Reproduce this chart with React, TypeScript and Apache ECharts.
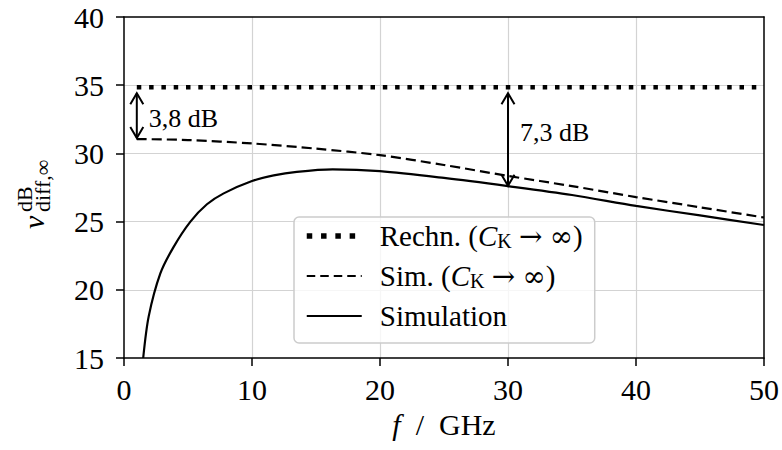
import React, { useEffect, useRef } from "react";
import * as echarts from "echarts";

// Frequency axis (GHz) and differential gain curves (dB)
const rechnF = [1, 50];
const rechnV = [34.85, 34.85];

const simF = [1, 5, 10, 15, 20, 25, 30, 35, 40, 45, 50];
const simV = [31.05, 30.98, 30.73, 30.35, 29.87, 29.15, 28.35, 27.6, 26.8, 26.05, 25.3];

const simulationF = [1.5, 1.93, 2.84, 3.88, 5.19, 6.48, 7.79, 10, 11.7, 13.5, 16.3, 20, 25, 30, 35, 40, 45, 50];
const simulationV = [15.0, 18.05, 21.2, 23.15, 25.0, 26.27, 27.07, 27.97, 28.39, 28.65, 28.83, 28.7, 28.2, 27.6, 26.95, 26.15, 25.45, 24.75];

// Double-headed gap markers
const gapF = [1, 30];
const gapTop = [34.85, 34.85];
const gapBottom = [31.05, 27.55];
const gapLabels = ["3,8 dB", "7,3 dB"];
const gapLabelAt = [0.57, 0.42];

const xTicks = { min: 0, max: 50, interval: 10 };
const yTicks = { min: 15, max: 40, interval: 5 };

const seriesNames = ["Rechn.", "Sim.", "Simulation"];
const legendLabels: Record<string, string> = {
  "Rechn.": "{t|Rechn. (}{it|C}{sub|K}{t| }{ar|→}{t| }{inf|∞}{t|)}",
  "Sim.": "{t|Sim. (}{it|C}{sub|K}{t| }{ar|→}{t| }{inf|∞}{t|)}",
  Simulation: "{t|Simulation}",
};

const FONT = "'Liberation Serif', 'DejaVu Serif', serif";
const SYM_FONT = "'DejaVu Serif', 'DejaVu Sans', serif";

export default function App() {
  const ref = useRef<HTMLDivElement>(null);

  useEffect(() => {
    if (!ref.current) return;
    const chart = echarts.init(ref.current, undefined, { renderer: "svg" });

    const pairs = (xs: number[], ys: number[]) => xs.map((x, i) => [x, ys[i]]);

    const option: any = {
      animation: false,
      backgroundColor: "#ffffff",
      grid: { left: 124, top: 17, right: 17, bottom: 92, containLabel: false },
      xAxis: [
        {
          type: "value",
          min: xTicks.min,
          max: xTicks.max,
          interval: xTicks.interval,
          name: "{i|f}{n|\u2002/\u2002GHz}",
          nameLocation: "middle",
          nameGap: 51,
          nameTextStyle: {
            fontFamily: FONT,
            fontSize: 30,
            color: "#000",
            rich: {
              i: { fontStyle: "italic", fontFamily: FONT, fontSize: 30, color: "#000" },
              n: { fontFamily: FONT, fontSize: 30, color: "#000" },
            },
          },
          axisLine: { show: true, lineStyle: { color: "#000", width: 1.5 } },
          axisTick: { show: true, inside: false, length: 8, lineStyle: { color: "#000", width: 1.5 } },
          axisLabel: { fontFamily: FONT, fontSize: 30, color: "#000", margin: 16 },
          splitLine: { show: true, showMinLine: false, showMaxLine: false, lineStyle: { color: "#d3d3d3", width: 1.2 } },
        },
        {
          type: "value",
          position: "top",
          min: xTicks.min,
          max: xTicks.max,
          interval: xTicks.interval,
          axisLine: { show: true, onZero: false, lineStyle: { color: "#000", width: 1.5 } },
          axisTick: { show: false },
          axisLabel: { show: false },
          splitLine: { show: false },
        },
      ],
      yAxis: [
        {
          type: "value",
          min: yTicks.min,
          max: yTicks.max,
          interval: yTicks.interval,
          axisLine: { show: true, lineStyle: { color: "#000", width: 1.5 } },
          axisTick: { show: true, inside: false, length: 8, lineStyle: { color: "#000", width: 1.5 } },
          axisLabel: { fontFamily: FONT, fontSize: 30, color: "#000", margin: 20 },
          splitLine: { show: true, showMinLine: false, showMaxLine: false, lineStyle: { color: "#d3d3d3", width: 1.2 } },
        },
        {
          type: "value",
          position: "right",
          min: yTicks.min,
          max: yTicks.max,
          interval: yTicks.interval,
          axisLine: { show: true, onZero: false, lineStyle: { color: "#000", width: 1.5 } },
          axisTick: { show: false },
          axisLabel: { show: false },
          splitLine: { show: false },
        },
      ],
      legend: {
        orient: "vertical",
        left: 294,
        top: 217,
        itemWidth: 55,
        itemHeight: 14,
        itemGap: 10,
        padding: [4, 12, 12, 10],
        backgroundColor: "rgba(255,255,255,0.8)",
        borderColor: "#cccccc",
        borderWidth: 1.5,
        borderRadius: 5,
        selectedMode: false,
        itemStyle: { opacity: 0 },
        data: [
          { name: seriesNames[0], itemStyle: { opacity: 0 }, lineStyle: { width: 5.5, type: [5.5, 8.8], cap: "butt" } },
          { name: seriesNames[1], itemStyle: { opacity: 0 }, lineStyle: { width: 2.2, type: [8.5, 5], cap: "butt" } },
          { name: seriesNames[2], itemStyle: { opacity: 0 }, lineStyle: { width: 2.2, type: "solid" } },
        ],
        formatter: (name: string) => legendLabels[name] ?? name,
        textStyle: {
          fontFamily: FONT,
          fontSize: 29,
          color: "#000",
          lineHeight: 30,
          padding: [0, 0, 0, 13],
          rich: {
            t: { fontFamily: FONT, fontSize: 29, color: "#000", lineHeight: 30 },
            it: { fontStyle: "italic", fontFamily: FONT, fontSize: 29, color: "#000", lineHeight: 30 },
            sub: { fontFamily: FONT, fontSize: 20, color: "#000", lineHeight: 18, verticalAlign: "bottom" },
            ar: { fontFamily: SYM_FONT, fontSize: 28, color: "#000", lineHeight: 30 },
            inf: { fontFamily: SYM_FONT, fontSize: 28, color: "#000", lineHeight: 30 },
          },
        },
      },
      graphic: [
        {
          type: "group",
          x: 43,
          y: 229,
          rotation: Math.PI / 2,
          children: [
            {
              type: "text",
              x: 0,
              y: -10,
              style: { text: "v", fontFamily: FONT, fontStyle: "italic", fontSize: 30, fill: "#000", align: "left", verticalAlign: "middle" },
            },
            {
              type: "text",
              x: 17,
              y: -18.5,
              style: { text: "dB", fontFamily: FONT, fontSize: 22, fill: "#000", align: "left", verticalAlign: "middle" },
            },
            {
              type: "text",
              x: 17,
              y: -1,
              style: { text: "diff,∞", fontFamily: FONT, fontSize: 22, fill: "#000", align: "left", verticalAlign: "middle" },
            },
          ],
        },
      ],
      series: [
        {
          name: seriesNames[0],
          type: "line",
          data: pairs(rechnF, rechnV),
          showSymbol: false,
          symbol: "none",
          lineStyle: { color: "#000", width: 4.5, type: [4.5, 7.8], cap: "butt" },
          itemStyle: { color: "#000" },
          z: 3,
        },
        {
          name: seriesNames[1],
          type: "line",
          data: pairs(simF, simV),
          showSymbol: false,
          symbol: "none",
          smooth: 0.3,
          lineStyle: { color: "#000", width: 2.2, type: [10, 5], cap: "butt" },
          itemStyle: { color: "#000" },
          z: 3,
        },
        {
          name: seriesNames[2],
          type: "line",
          data: pairs(simulationF, simulationV),
          showSymbol: false,
          symbol: "none",
          smooth: 0.3,
          clip: true,
          lineStyle: { color: "#000", width: 2.2, type: "solid" },
          itemStyle: { color: "#000" },
          z: 3,
        },
        {
          type: "custom",
          data: gapF.map((f, i) => [f, gapTop[i], gapBottom[i]]),
          encode: { x: 0, y: [1, 2] },
          z: 5,
          renderItem: (params: any, api: any) => {
            const i = params.dataIndex;
            const top = api.coord([api.value(0), api.value(1)]);
            const bot = api.coord([api.value(0), api.value(2)]);
            const x = top[0];
            const y1 = top[1] + 6;
            const y2 = bot[1] - 1;
            const h = 11;
            const w = 6.5;
            const stroke = { stroke: "#000", lineWidth: 2, fill: "none" };
            return {
              type: "group",
              children: [
                { type: "line", shape: { x1: x, y1, x2: x, y2 }, style: { stroke: "#000", lineWidth: 2 } },
                { type: "polyline", shape: { points: [[x - w, y1 + h], [x, y1], [x + w, y1 + h]] }, style: stroke },
                { type: "polyline", shape: { points: [[x - w, y2 - h], [x, y2], [x + w, y2 - h]] }, style: stroke },
                {
                  type: "text",
                  x: x + 12,
                  y: y1 + (y2 - y1) * gapLabelAt[i],
                  style: {
                    text: gapLabels[i],
                    fontFamily: FONT,
                    fontSize: 26,
                    fill: "#000",
                    align: "left",
                    verticalAlign: "middle",
                  },
                },
              ],
            };
          },
        },
      ],
    };

    chart.setOption(option);
    return () => chart.dispose();
  }, []);

  return (
    <div
      ref={ref}
      style={{ position: "fixed", left: 0, top: 0, width: 782, height: 450, background: "#fff" }}
    />
  );
}
